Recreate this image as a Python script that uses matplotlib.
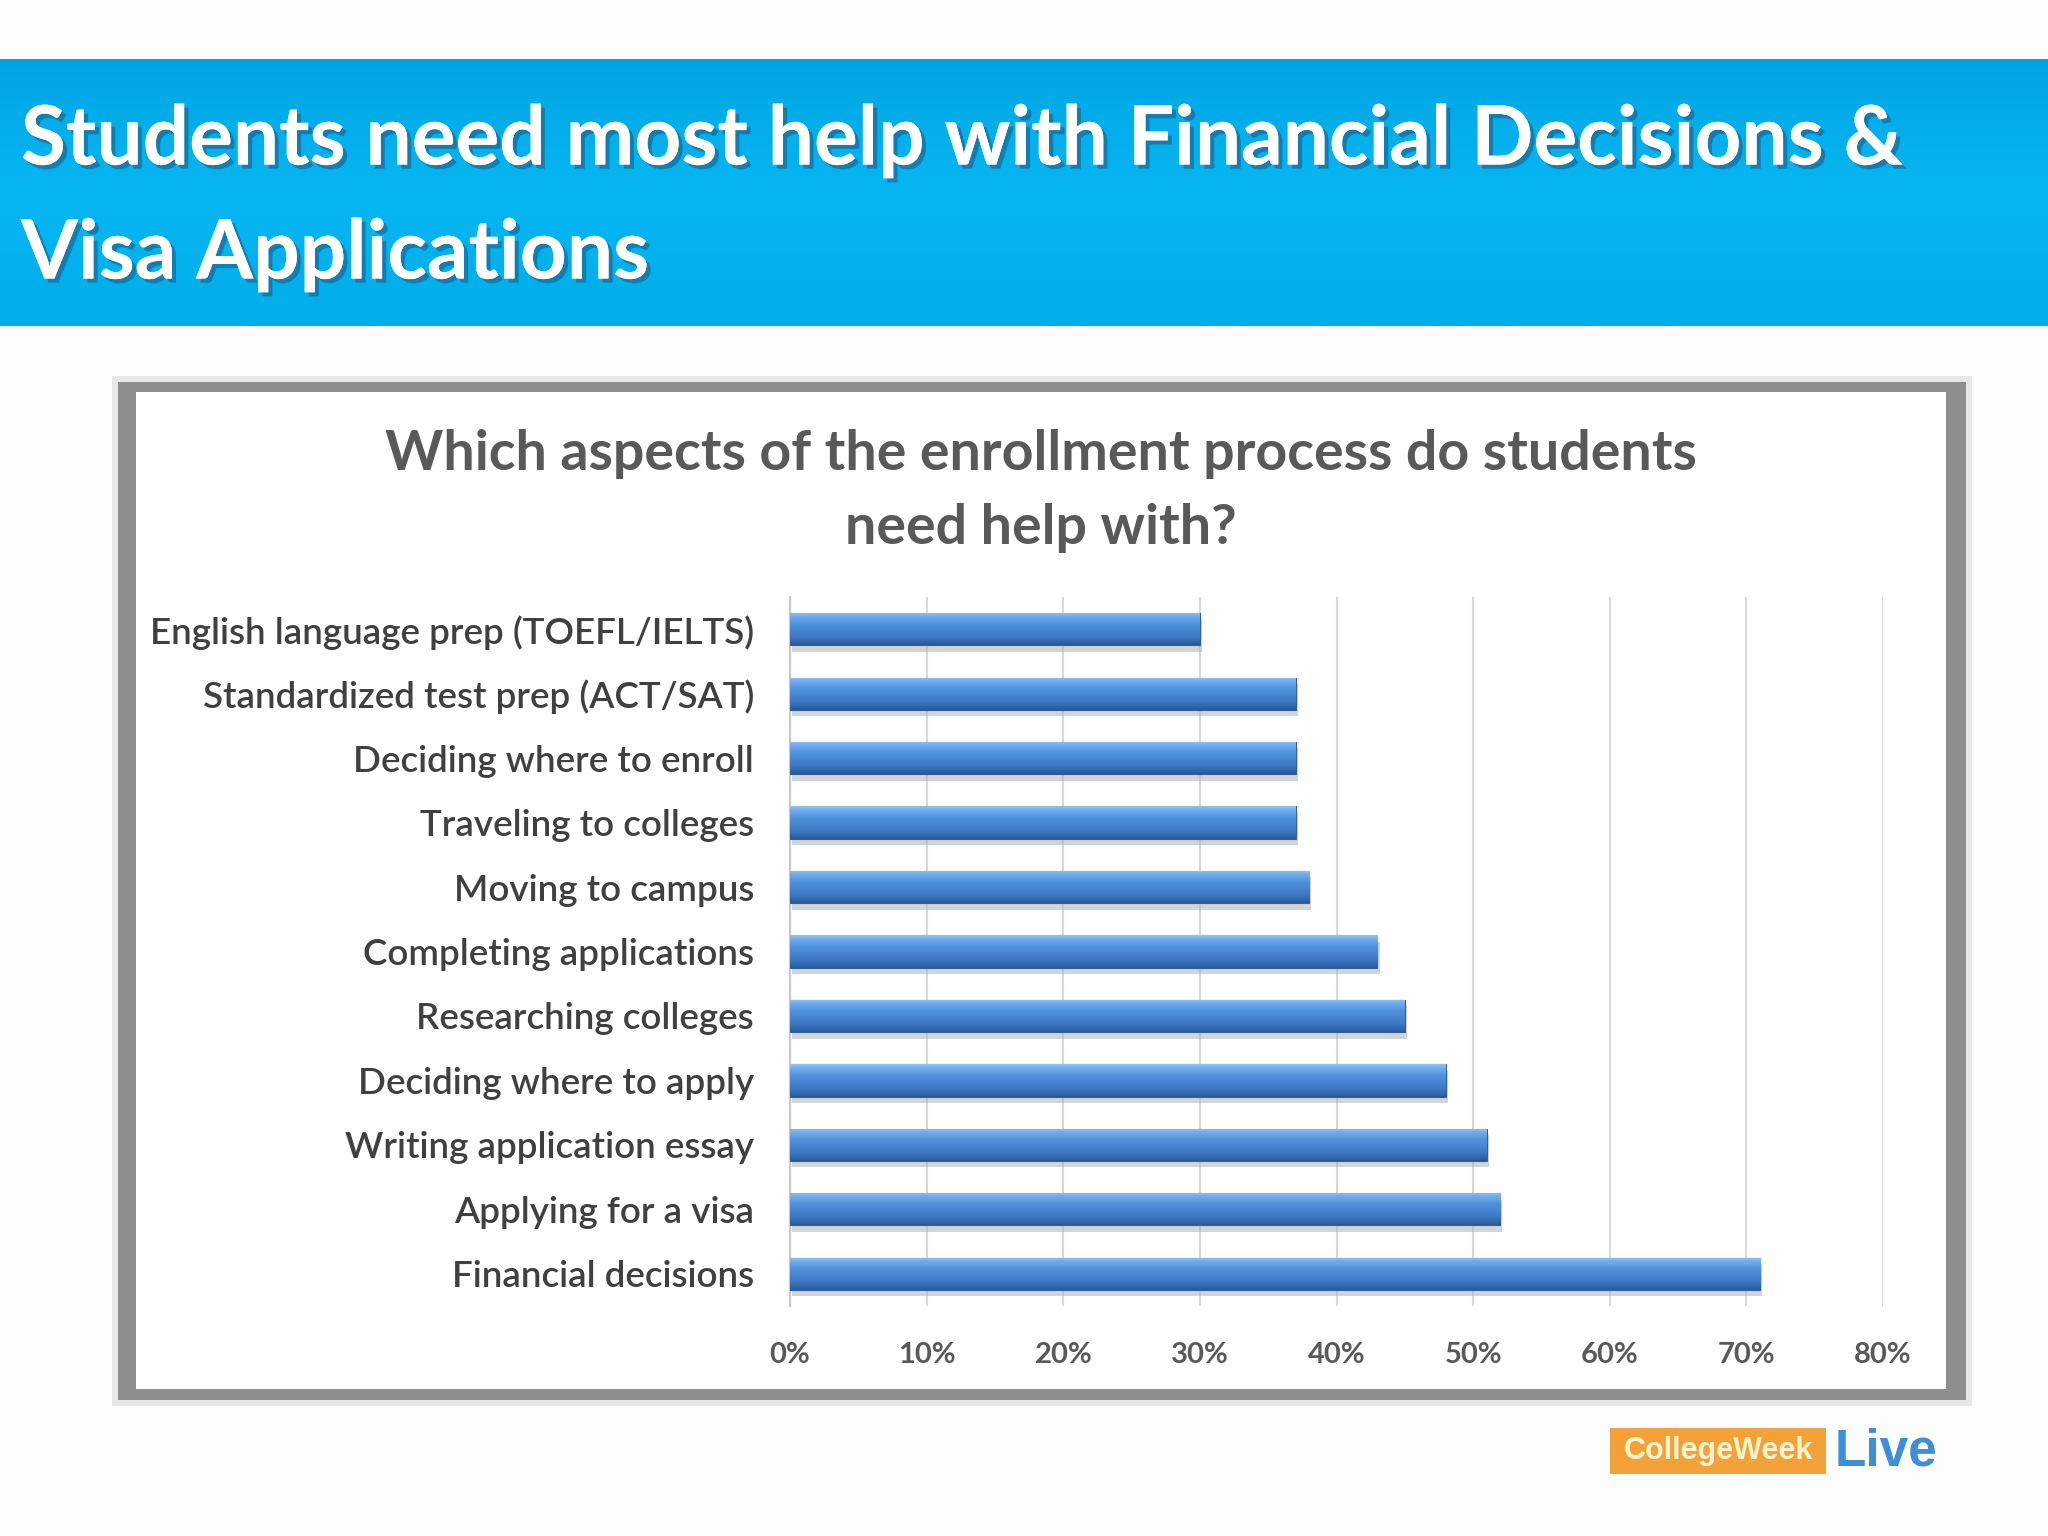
import numpy as np
import matplotlib
matplotlib.use("Agg")
import matplotlib.pyplot as plt
import matplotlib.patheffects as pe
from matplotlib.patches import Rectangle

# data (percent of students)
categories = [
    "English language prep (TOEFL/IELTS)",
    "Standardized test prep (ACT/SAT)",
    "Deciding where to enroll",
    "Traveling to colleges",
    "Moving to campus",
    "Completing applications",
    "Researching colleges",
    "Deciding where to apply",
    "Writing application essay",
    "Applying for a visa",
    "Financial decisions",
]
values = [30, 37, 37, 37, 38, 43, 45, 48, 51, 52, 71]
x_ticks = [0, 10, 20, 30, 40, 50, 60, 70, 80]
x_tick_labels = [f"{t}%" for t in x_ticks]

headline_1 = "Students need most help with Financial Decisions &"
headline_2 = "Visa Applications"
chart_title = "Which aspects of the enrollment process do students\nneed help with?"

plt.rcParams["font.family"] = ["Lato", "DejaVu Sans"]

W, H = 2048, 1536
fig = plt.figure(figsize=(W / 100, H / 100), dpi=100)
fig.patch.set_facecolor("#fdfdfd")

# background layer in pixel coordinates for banner, frame and logo
bg = fig.add_axes([0, 0, 1, 1])
bg.set_xlim(0, W)
bg.set_ylim(H, 0)
bg.axis("off")

# blue banner with soft vertical gradient
grad = np.linspace(0, 1, 100).reshape(-1, 1)
banner_cmap = matplotlib.colors.LinearSegmentedColormap.from_list("banner", ["#00a6e4", "#06b6f2", "#00aee9"])
bg.imshow(grad, cmap=banner_cmap, extent=[0, W, 326, 59], aspect="auto", zorder=1)
shadow = [pe.withSimplePatchShadow(offset=(3, -3), shadow_rgbFace="#1a4f7a", alpha=0.5), pe.Normal()]
bg.text(21, 141, headline_1, color="white", fontsize=59, fontweight="bold",
        va="center", ha="left", zorder=3, path_effects=shadow)
bg.text(21, 255, headline_2, color="white", fontsize=59, fontweight="bold",
        va="center", ha="left", zorder=3, path_effects=shadow)

# chart frame: thick grey border with a faint shadow
bg.add_patch(Rectangle((112, 376), 1860, 1030, facecolor="#e8e8e8", edgecolor="none", zorder=1))
bg.add_patch(Rectangle((118, 382), 1848, 1018, facecolor="#8e8e8e", edgecolor="none", zorder=2))
bg.add_patch(Rectangle((136, 392), 1810, 997, facecolor="white", edgecolor="none", zorder=3))

bg.text(1041, 491, chart_title, color="#595959", fontsize=40, fontweight="bold",
        ha="center", va="center", linespacing=1.58, zorder=4)

# logo
bg.add_patch(Rectangle((1610, 1428), 216, 46, facecolor="#f3a23a", edgecolor="none", zorder=2))
bg.text(1718, 1451, "CollegeWeek", color="#fff3cf", fontsize=22, fontweight="bold",
        ha="center", va="center", family=["Liberation Sans", "DejaVu Sans"], zorder=3)
bg.text(1835, 1452, "Live", color="#3d8fd6", fontsize=37, fontweight="bold",
        ha="left", va="center", family=["Liberation Sans", "DejaVu Sans"], zorder=3)

# the bar chart itself
ax = fig.add_axes([790 / W, 1 - 1306 / H, (1883 - 790) / W, (1306 - 597) / H])
ax.set_facecolor("none")
y = np.arange(len(categories))
bar_h = 0.5

# shadow under bars
ax.barh(y + 0.1, values, height=bar_h, left=0.15, color="#aaaaaa", alpha=0.5,
        edgecolor="none", zorder=2)
bars = ax.barh(y, values, height=bar_h, color="#4a88d2", edgecolor="#2f5f9c",
               linewidth=0.8, zorder=3)

# bevelled blue fill, clipped to each bar
bar_cmap = matplotlib.colors.LinearSegmentedColormap.from_list(
    "bar", [(0, "#8cc4f4"), (0.12, "#72aeec"), (0.35, "#5192dc"), (0.75, "#3d78c4"), (1, "#2b5a96")])
for b in bars:
    x0, y0, w, h = b.get_x(), b.get_y(), b.get_width(), b.get_height()
    im = ax.imshow(grad, cmap=bar_cmap, extent=[x0, x0 + w, y0 + h, y0], origin="upper",
                   aspect="auto", zorder=4)
    im.set_clip_path(b)

ax.set_xlim(0, 80)
ax.set_ylim(len(categories) - 0.5, -0.5)
ax.set_yticks(y)
ax.set_yticklabels(categories)
ax.set_xticks(x_ticks)
ax.set_xticklabels(x_tick_labels)
ax.tick_params(axis="y", length=0, pad=26, labelsize=26.5, labelcolor="#404040")
ax.tick_params(axis="x", length=0, pad=26, labelsize=21, labelcolor="#595959")
for lab in ax.get_yticklabels():
    lab.set_fontweight("semibold")
for lab in ax.get_xticklabels():
    lab.set_fontweight("bold")
ax.grid(axis="x", color="#d9d9d9", linewidth=1.5, zorder=0)
ax.set_axisbelow(True)
for s in ["top", "right", "bottom"]:
    ax.spines[s].set_visible(False)
ax.spines["left"].set_color("#c8c8c8")
ax.spines["left"].set_linewidth(1.5)

fig.savefig("out.png", dpi=100)
